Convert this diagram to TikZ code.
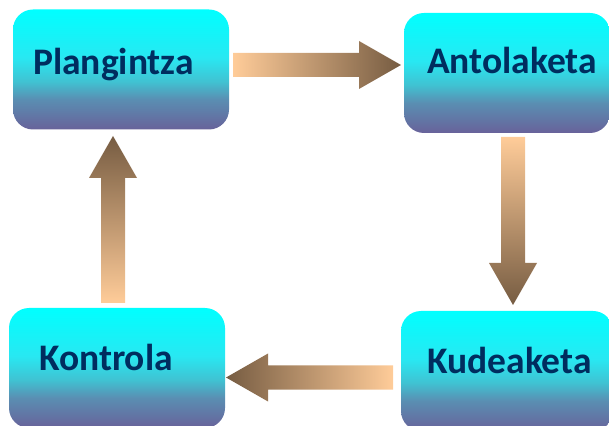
\documentclass[tikz,border=0pt]{standalone}
\usepackage{fontspec}
\setmainfont{Carlito}
\usetikzlibrary{calc}

\definecolor{boxtop}{RGB}{0,255,255}
\definecolor{boxhi}{RGB}{40,232,242}
\definecolor{boxmid}{RGB}{64,194,210}
\definecolor{boxlow}{RGB}{90,142,178}
\definecolor{boxbot}{RGB}{104,98,154}
\definecolor{tail}{RGB}{255,204,153}
\definecolor{head}{RGB}{118,92,66}
\definecolor{phasetext}{RGB}{0,45,95}

\pgfdeclareverticalshading{phaseshade}{100bp}{color(0bp)=(boxbot); color(25bp)=(boxbot);
  color(37.5bp)=(boxlow); color(45bp)=(boxmid); color(55bp)=(boxhi); color(75bp)=(boxtop); color(100bp)=(boxtop)}

\newcommand\blockarrow[3]{%
  \coordinate (hb) at ($(#3)!42pt!(#2)$);
  \path[#1] ($(#2)!12pt!90:(#3)$) -- ($(hb)!12pt!90:(#3)$) -- ($(hb)!24pt!90:(#3)$)
    -- (#3) -- ($(hb)!24pt!-90:(#3)$) -- ($(hb)!12pt!-90:(#3)$) -- ($(#2)!12pt!-90:(#3)$) -- cycle;
}

\begin{document}
\begin{tikzpicture}[x=1pt, y=1pt,
	phase/.style={
	  rectangle,
	  rounded corners=20pt,
	  minimum width=216pt,
	  minimum height=120pt,
	  inner sep=0pt,
	  shading=phaseshade
	},
	phasename/.style={
	  anchor=base west,
	  inner sep=0pt,
	  text=phasetext,
	  font=\fontsize{37.5}{42}\selectfont\bfseries
	},
	toright/.style={left color=tail, right color=head},
	toleft/.style={left color=head, right color=tail},
	todown/.style={top color=tail, bottom color=head},
	toup/.style={top color=head, bottom color=tail}
	]
	\useasboundingbox (0,0) rectangle (609,425);
	\clip (0,0) rectangle (609,425);
	\node at (121, 355.5) [phase] (plan) {};
	\node at (507, 352) [phase, minimum width=206pt] (anto) {};
	\node at (117, 57) [phase] (kontr) {};
	\node at (507, 54) [phase, minimum width=212pt] (kude) {};
	\node at (33, 350) [phasename] (plantxt) {Plangintza};
	\node at (427, 351) [phasename] (antotxt) {Antolaketa};
	\node at (39, 54) [phasename] (kontrtxt) {Kontrola};
	\node at (427, 52) [phasename] (kudetxt) {Kudeaketa};
	\coordinate (a1) at (233, 360);
	\coordinate (b1) at (401, 360);
	\coordinate (a2) at (513, 288);
	\coordinate (b2) at (513, 120);
	\coordinate (a3) at (393, 47.5);
	\coordinate (b3) at (226, 47.5);
	\coordinate (a4) at (113, 122);
	\coordinate (b4) at (113, 289);
	\blockarrow{toright}{a1}{b1}
	\blockarrow{todown}{a2}{b2}
	\blockarrow{toleft}{a3}{b3}
	\blockarrow{toup}{a4}{b4}
  \end{tikzpicture}
\end{document}
